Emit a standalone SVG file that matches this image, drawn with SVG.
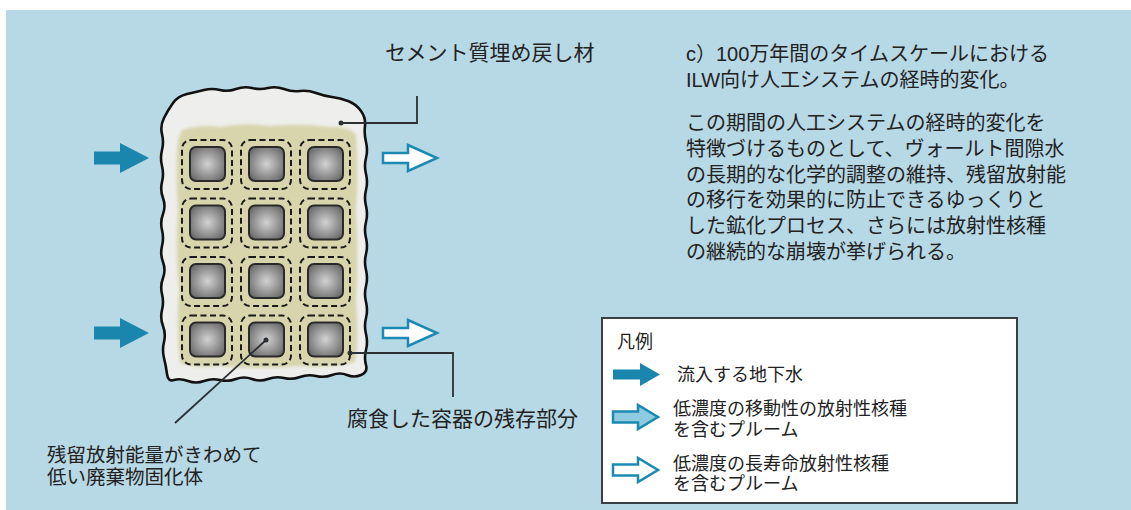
<svg xmlns="http://www.w3.org/2000/svg" width="1131" height="510" viewBox="0 0 1131 510">
  <defs>
    <style>
      .jp { font-family: "Liberation Sans", "Noto Sans CJK JP", sans-serif; fill: #222; }
      .t20 { font-size: 20px; }
      .t195 { font-size: 19.5px; }
      .t21 { font-size: 21px; }
      .t18 { font-size: 18px; }
      .leader { fill: none; stroke: #2b3035; stroke-width: 1.8; }
      .dot { fill: #2b3035; }
      .inflow { fill: #1b86ad; }
      .plume { fill: #ffffff; stroke: #1b8ab3; stroke-width: 2.5; stroke-linejoin: miter; }
      .plume-mobile { fill: #8fcbe0; stroke: #1b8ab3; stroke-width: 2.5; stroke-linejoin: miter; }
      .cage { fill: none; stroke: #1a1a1a; stroke-width: 2; stroke-dasharray: 6 3.5; }
      .core { fill: url(#coreShade); stroke: #2a2a2a; stroke-width: 2; }
    </style>
    <radialGradient id="coreShade" cx="0.5" cy="0.5" r="0.6">
      <stop offset="0" stop-color="#d2d2d2"/>
      <stop offset="1" stop-color="#6a6a6a"/>
    </radialGradient>
    <filter id="soft" x="-10%" y="-10%" width="120%" height="120%">
      <feGaussianBlur stdDeviation="1.8"/>
    </filter>
    <!-- one waste package: corroded container remnant (dashed) around a grey waste form -->
    <g id="pkg">
      <rect class="cage" x="0" y="0" width="50" height="49" rx="9"/>
      <rect class="core" x="8" y="7" width="35" height="34" rx="6"/>
    </g>
    <polygon id="arrowIn" class="inflow" points="0,-6.5 26,-6.5 26,-15 55,0 26,15 26,6.5 0,6.5"/>
    <polygon id="arrowOut" class="plume" points="0,-5 25,-5 25,-13 54,0 25,13 25,5 0,5"/>
  </defs>

  <!-- page background -->
  <rect x="0" y="0" width="1131" height="510" fill="#ffffff"/>
  <rect x="6" y="10" width="1125" height="500" fill="#b7d8e5"/>

  <!-- cementitious backfill block -->
  <g id="backfill">
    <path fill="#eeeeec" stroke="#111" stroke-width="2.6" stroke-linejoin="round"
      d="M164,118 Q168,110 173,103 Q178,96 187,94 Q196,92 204,90 Q212,88 220,90 Q228,92 236,89 Q244,86 252,88 Q260,90 268,88 Q276,86 284,89 Q292,92 300,91 Q308,90 316,93 Q324,96 332,97 Q340,98 348,101 Q356,104 361,111 Q366,118 365,126 Q364,134 366,142 Q368,150 366,158 Q364,166 366,174 Q368,182 366,190 Q364,198 366,206 Q368,214 366,222 Q364,230 366,238 Q368,246 366,254 Q364,262 366,270 Q368,278 366,286 Q364,294 366,302 Q368,310 366,318 Q364,326 366,334 Q368,342 366,350 Q364,358 366,365 Q368,372 361,375 Q354,378 347,375 Q340,372 332,375 Q324,378 316,376 Q308,374 300,377 Q292,380 284,378 Q276,376 268,379 Q260,382 252,379 Q244,376 236,379 Q228,382 220,380 Q212,378 204,381 Q196,384 188,381 Q180,378 174,380 Q168,382 167,374 Q166,366 164,358 Q162,350 164,342 Q166,334 163,326 Q160,318 162,310 Q164,302 162,294 Q160,286 163,278 Q166,270 163,262 Q160,254 162,246 Q164,238 162,230 Q160,222 163,214 Q166,206 163,198 Q160,190 162,182 Q164,174 162,166 Q160,158 162,150 Q164,142 162,134 Q160,126 164,118 Z"/>
    <!-- altered zone around the packages -->
    <path fill="#d8d5ad" filter="url(#soft)"
      d="M182,130 Q200,124 220,127 Q245,122 270,126 Q300,123 330,127 Q350,126 356,135 Q359,170 356,210 Q359,260 356,300 Q359,340 355,362 Q330,369 300,366 Q260,370 220,366 Q195,369 180,363 Q176,330 179,290 Q175,250 178,210 Q175,170 178,140 Z"/>
  </g>

  <!-- waste packages, 3 x 4 -->
  <g id="packages">
    <use href="#pkg" x="182" y="140"/>
    <use href="#pkg" x="241" y="140"/>
    <use href="#pkg" x="300" y="140"/>
    <use href="#pkg" x="182" y="198.5"/>
    <use href="#pkg" x="241" y="198.5"/>
    <use href="#pkg" x="300" y="198.5"/>
    <use href="#pkg" x="182" y="257"/>
    <use href="#pkg" x="241" y="257"/>
    <use href="#pkg" x="300" y="257"/>
    <use href="#pkg" x="182" y="315.5"/>
    <use href="#pkg" x="241" y="315.5"/>
    <use href="#pkg" x="300" y="315.5"/>
  </g>

  <!-- groundwater in / plumes out -->
  <g id="flows">
    <use href="#arrowIn" x="94" y="158"/>
    <use href="#arrowIn" x="94" y="333"/>
    <use href="#arrowOut" x="383" y="158"/>
    <use href="#arrowOut" x="383" y="333"/>
  </g>

  <!-- leader lines -->
  <g id="connectors">
    <polyline class="leader" points="341,123 417,123 417,96"/>
    <circle class="dot" cx="341" cy="123" r="2.5"/>
    <polyline class="leader" points="350,353 453,353 453,397"/>
    <circle class="dot" cx="350" cy="353" r="2.5"/>
    <line class="leader" x1="266" y1="340" x2="175" y2="423"/>
    <circle class="dot" cx="266" cy="340" r="2.5"/>
  </g>

  <!-- labels -->
  <g id="label-backfill">
    <text class="jp t21" x="385" y="60">セメント質埋め戻し材</text>
  </g>
  <g id="label-container">
    <text class="jp t21" x="347" y="426">腐食した容器の残存部分</text>
  </g>
  <g id="label-wasteform">
    <text class="jp t195" x="47" y="462">残留放射能量がきわめて<tspan x="47" dy="22">低い廃棄物固化体</tspan></text>
  </g>

  <!-- description -->
  <g id="description">
    <text class="jp t20" x="686" y="61">c）100万年間のタイムスケールにおける<tspan x="686" dy="26">ILW向け人工システムの経時的変化。</tspan></text>
    <text class="jp t20" x="686" y="130">この期間の人工システムの経時的変化を<tspan x="686" dy="25.8">特徴づけるものとして、ヴォールト間隙水</tspan><tspan x="686" dy="25.8">の長期的な化学的調整の維持、残留放射能</tspan><tspan x="686" dy="25.8">の移行を効果的に防止できるゆっくりと</tspan><tspan x="686" dy="25.8">した鉱化プロセス、さらには放射性核種</tspan><tspan x="686" dy="25.8">の継続的な崩壊が挙げられる。</tspan></text>
  </g>

  <!-- legend -->
  <g id="legend">
    <rect x="602" y="318" width="415" height="185" fill="#ffffff" stroke="#3a3f44" stroke-width="2"/>
    <text class="jp t18" x="617" y="348">凡例</text>
    <polygon class="inflow" points="613,369.5 640,369.5 640,363 660,374.5 640,386 640,379.5 613,379.5"/>
    <text class="jp t18" x="677" y="381">流入する地下水</text>
    <polygon class="plume-mobile" points="613,411.5 638,411.5 638,405 658,417 638,429 638,422.5 613,422.5"/>
    <text class="jp t18" x="673" y="415">低濃度の移動性の放射性核種<tspan x="673" dy="20.5">を含むプルーム</tspan></text>
    <polygon class="plume" points="613,464.5 638,464.5 638,458 658,470 638,482 638,475.5 613,475.5"/>
    <text class="jp t18" x="673" y="469.5">低濃度の長寿命放射性核種<tspan x="673" dy="20.5">を含むプルーム</tspan></text>
  </g>
</svg>
